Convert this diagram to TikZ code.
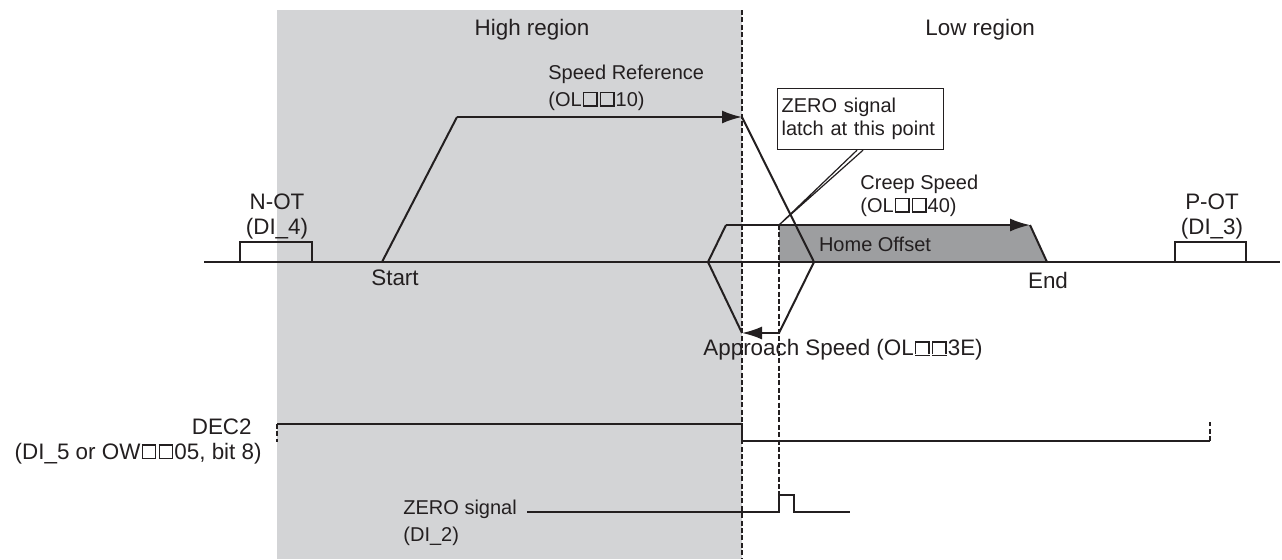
\documentclass[tikz,border=0pt]{standalone}
\usepackage{fontspec}
\setmainfont{Liberation Sans}
\usetikzlibrary{arrows.meta,positioning}
\definecolor{regiongray}{RGB}{211,212,214}
\definecolor{offsetgray}{RGB}{157,158,160}
\definecolor{ink}{RGB}{35,31,32}
% open square used in the register names
\newcommand\dsq{\kern0.6pt\vbox{\hrule height0.65pt\hbox{\vrule width0.65pt\vbox to 6pt{\vss}\kern6pt\vrule width0.65pt}\hrule height0.65pt}\kern0.6pt}

\begin{document}
\begin{tikzpicture}[x=0.5pt,y=-0.5pt,
  >={Latex[length=10pt,width=6.5pt]},
  sig/.style={draw=ink,line width=1pt},
  guide/.style={draw=ink,line width=0.6pt,dash pattern=on 2.5pt off 1.2pt},
  lbl/.style={font=\fontsize{10}{11.5}\selectfont,text=ink,inner sep=0pt,align=center},
  biglbl/.style={lbl,font=\fontsize{11.2}{12.5}\selectfont}]
  \useasboundingbox (0,0) rectangle (1282,559);
  % regions
  \fill[regiongray] (277,10) rectangle (742,559);
  \fill[offsetgray] (779,225) -- (1030,225) -- (1047,262) -- (779,262) -- cycle;
  \node[biglbl] (high) at (532,30) {High region};
  \node[biglbl,anchor=west] (low) at (925,30) {Low region};
  \draw[guide] (742,10) -- (742,559);
  \draw[guide] (779,225) -- (779,495);
  % axis and limit switches
  \draw[sig] (204,262) -- (1280,262);
  \draw[sig] (240,262) |- (312,242) -- (312,262);
  \draw[sig] (1175,262) |- (1246,242) -- (1246,262);
  \node[biglbl] (notlbl) at (277,216) {N-OT\\(DI\_4)};
  \node[biglbl] (potlbl) at (1212,216) {P-OT\\(DI\_3)};
  % speed profile
  \draw[sig] (382,262) -- (457,117);
  \draw[sig,->] (457,117) -- (742,117);
  \draw[sig] (742,117) -- (814,262) -- (779,333);
  \draw[sig,->] (779,333) -- (742,333);
  \draw[sig] (742,333) -- (708,262) -- (726,225);
  \draw[sig,->] (726,225) -- (1030,225);
  \draw[sig] (1030,225) -- (1047,262);
  \node[biglbl] (start) at (395,278) {Start};
  \node[biglbl] (end) at (1048,280) {End};
  \node[lbl] (offset) at (875,244) {Home Offset};
  \node[lbl,anchor=west,align=left] (spdref) at (548,88) {Speed Reference\\[2pt](OL\dsq\dsq10)};
  \node[lbl,anchor=west,align=left] (creep) at (860,196) {Creep Speed\\(OL\dsq\dsq40)};
  \node[biglbl,anchor=west] (approach) at (703,350) {Approach Speed (OL\dsq\dsq3E)};
  % callout
  \coordinate (latch) at (779,225);
  \node[lbl,draw=ink,line width=0.6pt,fill=white,align=left,anchor=north west,
    inner xsep=2pt,text width=79pt,minimum height=30.5pt] (latchbox) at (777,88) {ZERO signal\\latch at this point};
  \draw[ink,line width=0.6pt] ([xshift=40pt]latchbox.south west) -- (latch) -- ([xshift=43pt]latchbox.south west);
  % DEC2
  \draw[sig] (277,424) -- (742,424) -- (742,441) -- (1210,441);
  \draw[guide,line width=1pt] (277,424) -- (277,442);
  \draw[guide,line width=1pt] (1210,441) -- (1210,422);
  \node[biglbl,anchor=east,align=right] (dec) at (262,441) {DEC2\kern5pt\\(DI\_5 or OW\dsq\dsq05, bit 8)};
  % ZERO signal
  \draw[sig] (527,512) -- (779,512) -- (779,495) -- (794,495) -- (794,512) -- (850,512);
  \node[lbl,anchor=west,align=left] (zero) at (403,523) {ZERO signal\\[2pt](DI\_2)};
\end{tikzpicture}
\end{document}
